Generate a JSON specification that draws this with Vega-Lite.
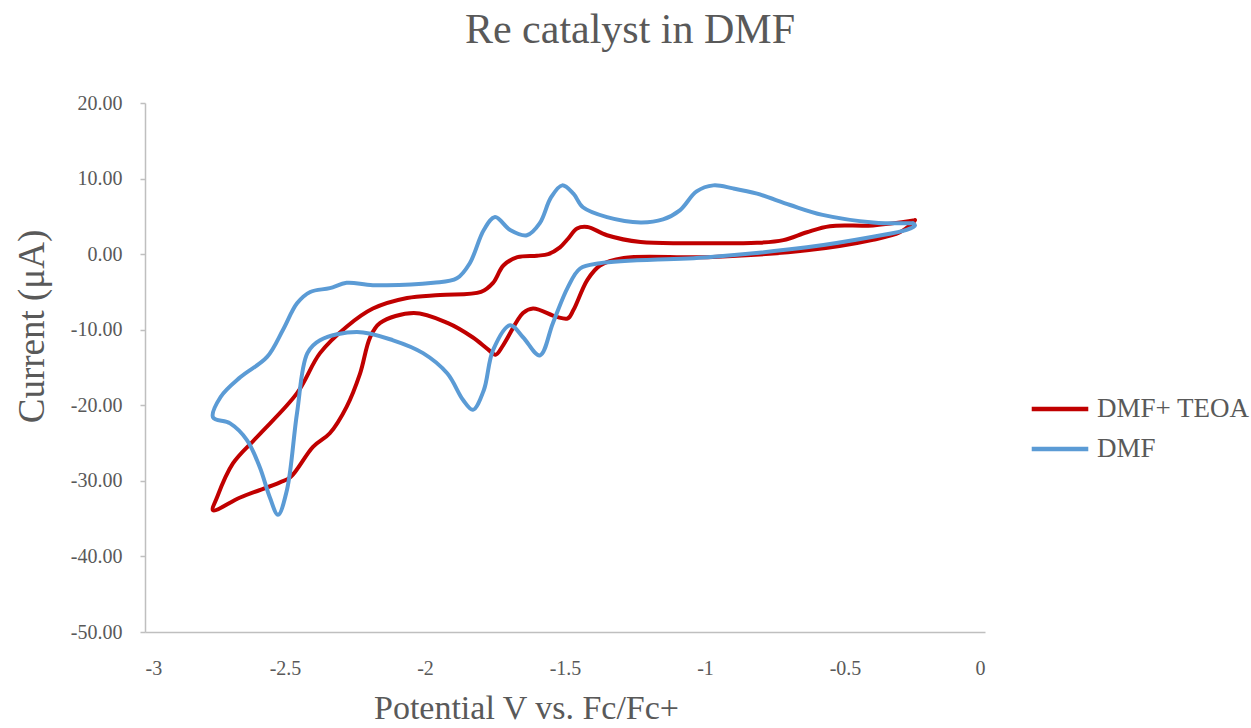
{
  "$schema": "https://vega.github.io/schema/vega-lite/v6.json",
  "width": 840,
  "height": 529,
  "autosize": {"type": "none"},
  "padding": {"left": 145, "top": 103, "right": 266, "bottom": 96},
  "background": "white",
  "config": {
    "view": {"stroke": null},
    "font": "Times New Roman, Liberation Serif, DejaVu Serif, serif"
  },
  "title": {
    "text": "Re catalyst in DMF",
    "font": "Times New Roman, Liberation Serif, DejaVu Serif, serif",
    "fontSize": 42,
    "fontWeight": "normal",
    "color": "#595959",
    "anchor": "middle",
    "dx": 65,
    "offset": 41
  },
  "data": {
    "values": [
      {"s": "DMF+ TEOA", "i": 0, "v": -0.25, "c": 4.5},
      {"s": "DMF+ TEOA", "i": 1, "v": -0.4, "c": 3.8},
      {"s": "DMF+ TEOA", "i": 2, "v": -0.554, "c": 3.7},
      {"s": "DMF+ TEOA", "i": 3, "v": -0.636, "c": 2.9},
      {"s": "DMF+ TEOA", "i": 4, "v": -0.72, "c": 1.85},
      {"s": "DMF+ TEOA", "i": 5, "v": -0.814, "c": 1.5},
      {"s": "DMF+ TEOA", "i": 6, "v": -1.05, "c": 1.45},
      {"s": "DMF+ TEOA", "i": 7, "v": -1.23, "c": 1.6},
      {"s": "DMF+ TEOA", "i": 8, "v": -1.35, "c": 2.5},
      {"s": "DMF+ TEOA", "i": 9, "v": -1.42, "c": 3.6},
      {"s": "DMF+ TEOA", "i": 10, "v": -1.457, "c": 3.4},
      {"s": "DMF+ TEOA", "i": 11, "v": -1.49, "c": 2.0},
      {"s": "DMF+ TEOA", "i": 12, "v": -1.518, "c": 0.9},
      {"s": "DMF+ TEOA", "i": 13, "v": -1.56, "c": 0.0},
      {"s": "DMF+ TEOA", "i": 14, "v": -1.6, "c": -0.2},
      {"s": "DMF+ TEOA", "i": 15, "v": -1.67, "c": -0.4},
      {"s": "DMF+ TEOA", "i": 16, "v": -1.72, "c": -1.5},
      {"s": "DMF+ TEOA", "i": 17, "v": -1.757, "c": -3.8},
      {"s": "DMF+ TEOA", "i": 18, "v": -1.8, "c": -5.0},
      {"s": "DMF+ TEOA", "i": 19, "v": -1.946, "c": -5.4},
      {"s": "DMF+ TEOA", "i": 20, "v": -2.064, "c": -5.8},
      {"s": "DMF+ TEOA", "i": 21, "v": -2.186, "c": -7.2},
      {"s": "DMF+ TEOA", "i": 22, "v": -2.28, "c": -9.6},
      {"s": "DMF+ TEOA", "i": 23, "v": -2.375, "c": -13.1},
      {"s": "DMF+ TEOA", "i": 24, "v": -2.457, "c": -18.4},
      {"s": "DMF+ TEOA", "i": 25, "v": -2.6, "c": -24.2},
      {"s": "DMF+ TEOA", "i": 26, "v": -2.686, "c": -27.7},
      {"s": "DMF+ TEOA", "i": 27, "v": -2.743, "c": -32.2},
      {"s": "DMF+ TEOA", "i": 28, "v": -2.757, "c": -33.9},
      {"s": "DMF+ TEOA", "i": 29, "v": -2.66, "c": -32.2},
      {"s": "DMF+ TEOA", "i": 30, "v": -2.518, "c": -30.2},
      {"s": "DMF+ TEOA", "i": 31, "v": -2.48, "c": -29.5},
      {"s": "DMF+ TEOA", "i": 32, "v": -2.4, "c": -25.5},
      {"s": "DMF+ TEOA", "i": 33, "v": -2.34, "c": -23.7},
      {"s": "DMF+ TEOA", "i": 34, "v": -2.28, "c": -20.2},
      {"s": "DMF+ TEOA", "i": 35, "v": -2.232, "c": -15.8},
      {"s": "DMF+ TEOA", "i": 36, "v": -2.196, "c": -11.0},
      {"s": "DMF+ TEOA", "i": 37, "v": -2.16, "c": -9.1},
      {"s": "DMF+ TEOA", "i": 38, "v": -2.04, "c": -7.8},
      {"s": "DMF+ TEOA", "i": 39, "v": -1.92, "c": -9.1},
      {"s": "DMF+ TEOA", "i": 40, "v": -1.83, "c": -11.0},
      {"s": "DMF+ TEOA", "i": 41, "v": -1.775, "c": -12.6},
      {"s": "DMF+ TEOA", "i": 42, "v": -1.748, "c": -13.3},
      {"s": "DMF+ TEOA", "i": 43, "v": -1.72, "c": -12.0},
      {"s": "DMF+ TEOA", "i": 44, "v": -1.65, "c": -7.8},
      {"s": "DMF+ TEOA", "i": 45, "v": -1.614, "c": -7.2},
      {"s": "DMF+ TEOA", "i": 46, "v": -1.53, "c": -8.3},
      {"s": "DMF+ TEOA", "i": 47, "v": -1.49, "c": -8.5},
      {"s": "DMF+ TEOA", "i": 48, "v": -1.47, "c": -7.4},
      {"s": "DMF+ TEOA", "i": 49, "v": -1.42, "c": -3.4},
      {"s": "DMF+ TEOA", "i": 50, "v": -1.375, "c": -1.5},
      {"s": "DMF+ TEOA", "i": 51, "v": -1.29, "c": -0.5},
      {"s": "DMF+ TEOA", "i": 52, "v": -0.99, "c": -0.4},
      {"s": "DMF+ TEOA", "i": 53, "v": -0.636, "c": 0.5},
      {"s": "DMF+ TEOA", "i": 54, "v": -0.4, "c": 1.9},
      {"s": "DMF+ TEOA", "i": 55, "v": -0.304, "c": 2.9},
      {"s": "DMF+ TEOA", "i": 56, "v": -0.257, "c": 4.2},
      {"s": "DMF+ TEOA", "i": 57, "v": -0.25, "c": 4.5},

      {"s": "DMF", "i": 0, "v": -0.257, "c": 4.1},
      {"s": "DMF", "i": 1, "v": -0.4, "c": 4.2},
      {"s": "DMF", "i": 2, "v": -0.58, "c": 5.2},
      {"s": "DMF", "i": 3, "v": -0.696, "c": 6.5},
      {"s": "DMF", "i": 4, "v": -0.814, "c": 8.0},
      {"s": "DMF", "i": 5, "v": -0.9, "c": 8.7},
      {"s": "DMF", "i": 6, "v": -0.97, "c": 9.1},
      {"s": "DMF", "i": 7, "v": -1.03, "c": 8.3},
      {"s": "DMF", "i": 8, "v": -1.09, "c": 5.8},
      {"s": "DMF", "i": 9, "v": -1.15, "c": 4.6},
      {"s": "DMF", "i": 10, "v": -1.23, "c": 4.2},
      {"s": "DMF", "i": 11, "v": -1.35, "c": 4.9},
      {"s": "DMF", "i": 12, "v": -1.436, "c": 6.2},
      {"s": "DMF", "i": 13, "v": -1.47, "c": 8.0},
      {"s": "DMF", "i": 14, "v": -1.51, "c": 9.1},
      {"s": "DMF", "i": 15, "v": -1.55, "c": 7.5},
      {"s": "DMF", "i": 16, "v": -1.59, "c": 4.1},
      {"s": "DMF", "i": 17, "v": -1.636, "c": 2.5},
      {"s": "DMF", "i": 18, "v": -1.696, "c": 3.2},
      {"s": "DMF", "i": 19, "v": -1.75, "c": 4.9},
      {"s": "DMF", "i": 20, "v": -1.79, "c": 3.2},
      {"s": "DMF", "i": 21, "v": -1.84, "c": -1.2},
      {"s": "DMF", "i": 22, "v": -1.886, "c": -3.2},
      {"s": "DMF", "i": 23, "v": -1.97, "c": -3.8},
      {"s": "DMF", "i": 24, "v": -2.186, "c": -4.1},
      {"s": "DMF", "i": 25, "v": -2.28, "c": -3.8},
      {"s": "DMF", "i": 26, "v": -2.34, "c": -4.5},
      {"s": "DMF", "i": 27, "v": -2.41, "c": -5.0},
      {"s": "DMF", "i": 28, "v": -2.457, "c": -6.5},
      {"s": "DMF", "i": 29, "v": -2.507, "c": -10.0},
      {"s": "DMF", "i": 30, "v": -2.564, "c": -13.6},
      {"s": "DMF", "i": 31, "v": -2.66, "c": -16.3},
      {"s": "DMF", "i": 32, "v": -2.73, "c": -18.9},
      {"s": "DMF", "i": 33, "v": -2.757, "c": -21.6},
      {"s": "DMF", "i": 34, "v": -2.696, "c": -22.4},
      {"s": "DMF", "i": 35, "v": -2.636, "c": -24.6},
      {"s": "DMF", "i": 36, "v": -2.59, "c": -28.2},
      {"s": "DMF", "i": 37, "v": -2.554, "c": -32.2},
      {"s": "DMF", "i": 38, "v": -2.525, "c": -34.5},
      {"s": "DMF", "i": 39, "v": -2.493, "c": -31.2},
      {"s": "DMF", "i": 40, "v": -2.457, "c": -21.0},
      {"s": "DMF", "i": 41, "v": -2.42, "c": -13.1},
      {"s": "DMF", "i": 42, "v": -2.375, "c": -11.4},
      {"s": "DMF", "i": 43, "v": -2.243, "c": -10.3},
      {"s": "DMF", "i": 44, "v": -2.114, "c": -11.4},
      {"s": "DMF", "i": 45, "v": -2.007, "c": -13.1},
      {"s": "DMF", "i": 46, "v": -1.92, "c": -15.8},
      {"s": "DMF", "i": 47, "v": -1.864, "c": -19.3},
      {"s": "DMF", "i": 48, "v": -1.829, "c": -20.6},
      {"s": "DMF", "i": 49, "v": -1.79, "c": -18.0},
      {"s": "DMF", "i": 50, "v": -1.757, "c": -12.7},
      {"s": "DMF", "i": 51, "v": -1.696, "c": -9.4},
      {"s": "DMF", "i": 52, "v": -1.65, "c": -11.0},
      {"s": "DMF", "i": 53, "v": -1.59, "c": -13.4},
      {"s": "DMF", "i": 54, "v": -1.543, "c": -9.1},
      {"s": "DMF", "i": 55, "v": -1.49, "c": -4.4},
      {"s": "DMF", "i": 56, "v": -1.446, "c": -1.9},
      {"s": "DMF", "i": 57, "v": -1.375, "c": -1.2},
      {"s": "DMF", "i": 58, "v": -0.99, "c": -0.4},
      {"s": "DMF", "i": 59, "v": -0.636, "c": 0.9},
      {"s": "DMF", "i": 60, "v": -0.4, "c": 2.3},
      {"s": "DMF", "i": 61, "v": -0.28, "c": 3.2},
      {"s": "DMF", "i": 62, "v": -0.25, "c": 3.8},
      {"s": "DMF", "i": 63, "v": -0.257, "c": 4.1}
    ]
  },
  "mark": {"type": "line", "interpolate": "catmull-rom", "strokeWidth": 4, "strokeCap": "round", "strokeJoin": "round"},
  "encoding": {
    "x": {
      "field": "v",
      "type": "quantitative",
      "scale": {"domain": [-3, 0], "nice": false, "zero": false},
      "axis": {
        "title": "Potential V vs. Fc/Fc+",
        "values": [-3, -2.5, -2, -1.5, -1, -0.5, 0],
        "labelExpr": "replace(format(datum.value, '~g'), '−', '-')",
        "grid": false,
        "domainColor": "#BFBFBF",
        "domainWidth": 1.5,
        "ticks": false,
        "labelFont": "Times New Roman, Liberation Serif, DejaVu Serif, serif",
        "labelFontSize": 20,
        "labelColor": "#595959",
        "labelPadding": 26,
        "titleFont": "Times New Roman, Liberation Serif, DejaVu Serif, serif",
        "titleFontSize": 34,
        "titleFontWeight": "normal",
        "titleColor": "#595959",
        "titleBaseline": "alphabetic",
        "titleAlign": "center",
        "titleX": 381,
        "titleY": 86
      }
    },
    "y": {
      "field": "c",
      "type": "quantitative",
      "scale": {"domain": [-50, 20], "nice": false, "zero": false},
      "axis": {
        "title": "Current (μA)",
        "values": [-50, -40, -30, -20, -10, 0, 10, 20],
        "labelExpr": "replace(format(datum.value, '.2f'), '−', '-')",
        "grid": false,
        "domainColor": "#BFBFBF",
        "domainWidth": 1.5,
        "tickColor": "#BFBFBF",
        "tickSize": 5,
        "tickWidth": 1.5,
        "labelFont": "Times New Roman, Liberation Serif, DejaVu Serif, serif",
        "labelFontSize": 20,
        "labelColor": "#595959",
        "labelPadding": 18,
        "titleFont": "Times New Roman, Liberation Serif, DejaVu Serif, serif",
        "titleFontSize": 37,
        "titleFontWeight": "normal",
        "titleColor": "#595959",
        "titleAngle": 270,
        "titleBaseline": "middle",
        "titleAlign": "center",
        "titleX": -113,
        "titleY": 223
      }
    },
    "order": {"field": "i", "type": "quantitative"},
    "color": {
      "field": "s",
      "type": "nominal",
      "scale": {"domain": ["DMF+ TEOA", "DMF"], "range": ["#C00000", "#5B9BD5"]},
      "legend": {
        "title": null,
        "orient": "none",
        "legendX": 884,
        "legendY": 286,
        "symbolType": "stroke",
        "symbolSize": 3200,
        "symbolStrokeWidth": 4.5,
        "clipHeight": 40,
        "labelFont": "Times New Roman, Liberation Serif, DejaVu Serif, serif",
        "labelFontSize": 27,
        "labelColor": "#595959",
        "labelOffset": 6,
        "rowPadding": 0
      }
    }
  }
}
